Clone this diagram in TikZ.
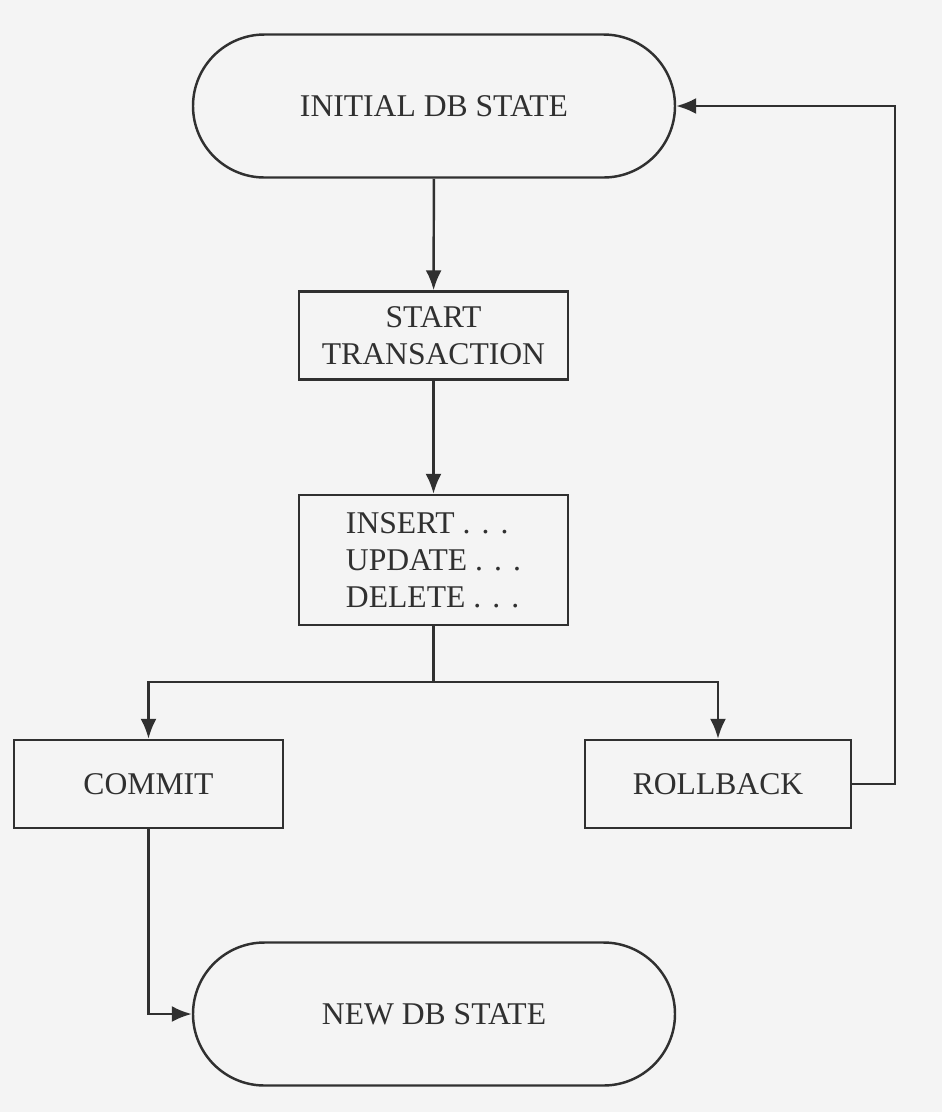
\documentclass[tikz,border=0pt]{standalone}
\usepackage{fontspec}
\setmainfont{Liberation Serif}
\usetikzlibrary{arrows.meta}
\usetikzlibrary{shapes.misc}

\definecolor{bgcol}{HTML}{F4F4F4}
\definecolor{inkcol}{HTML}{303030}
\newcommand{\spdots}{\ .\hspace{0.35em}.\hspace{0.35em}.}

\begin{document}
\begin{tikzpicture}[
        line width=1.4pt, draw=inkcol, text=inkcol,
        font=\fontsize{18}{21}\selectfont,
        >={Latex[length=4mm,width=3.2mm]},
        dbstate/.style={rounded rectangle, draw, minimum width=9.64cm, minimum height=2.86cm, inner xsep=0pt},
        txbox/.style={rectangle, draw, minimum width=5.38cm, minimum height=1.76cm, align=center}
    ]
                \useasboundingbox (0,0) rectangle (18.84,-22.24);
                \fill[bgcol] (0,0) rectangle (18.84,-22.24);

                \node[dbstate] (initdb) at (8.68,-2.12) {INITIAL DB STATE};
                \node[txbox] (starttx) at (8.67,-6.71) {START\\TRANSACTION};
                \node[txbox, minimum height=2.6cm, align=left] (ops) at (8.67,-11.2) {INSERT\spdots\\UPDATE\spdots\\DELETE\spdots};
                \node[txbox] (commit) at (2.97,-15.68) {COMMIT};
                \node[txbox, minimum width=5.32cm] (rollback) at (14.36,-15.68) {ROLLBACK};
                \node[dbstate] (newdb) at (8.68,-20.28) {NEW DB STATE};
                \coordinate (split) at (8.67,-13.64);
                \coordinate (loop) at (17.9,-15.68);

                \draw[->] (initdb) -- (starttx);
                \draw[->] (starttx) -- (ops);
                \draw (ops) -- (split);
                \draw[->] (split) -| (commit);
                \draw[->] (split) -| (rollback);
                \draw[->] (rollback) -- (loop) |- (initdb);
                \draw[->] (commit) |- (newdb);
            \end{tikzpicture}
\end{document}
